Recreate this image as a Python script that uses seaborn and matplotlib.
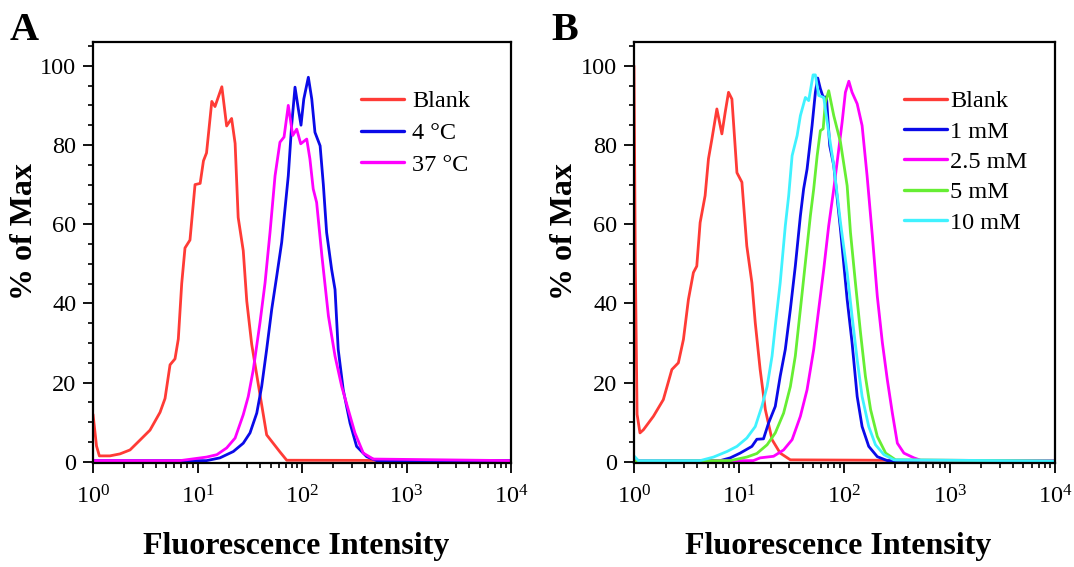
import numpy as np
import pandas as pd
import matplotlib
matplotlib.use('Agg')
import matplotlib.pyplot as plt
from matplotlib.ticker import MultipleLocator, LogLocator, NullFormatter
import seaborn as sns

## panel A: temperature
a_blank_x = [1.0, 1.08, 1.15, 1.45, 1.81, 2.26, 2.82, 3.51, 4.38, 4.89, 5.46, 6.09, 6.55, 7.06, 7.59, 8.47, 9.47,
             10.6, 11.4, 12.2, 13.7, 14.7, 17.1, 19.0, 21.2, 22.9, 24.5, 27.4, 29.6, 33.0, 38.2, 45.9, 61.5, 71.4, 10000]
a_blank_y = [12.0, 4.0, 1.5, 1.5, 2.0, 3.0, 5.5, 8.0, 12.5, 16.0, 24.5, 26.0, 31.0, 45.0, 54.0, 56.0, 70.0,
             70.3, 76.0, 78.0, 91.0, 89.7, 94.7, 84.8, 86.7, 80.4, 61.7, 53.3, 40.6, 29.7, 19.5, 6.8, 2.5, 0.4, 0.3]

a_4c_x = [1.0, 12.2, 16.4, 22.0, 27.4, 31.8, 36.9, 41.1, 45.9, 51.3, 57.3, 63.9, 73.9, 79.6, 85.7, 92.2, 97.8,
          104, 115, 124, 133, 149, 160, 172, 192, 207, 222, 248, 288, 333, 416, 519, 10000]
a_4c_y = [0.3, 0.3, 1.0, 2.6, 4.7, 7.3, 12.3, 19.0, 28.4, 38.5, 46.9, 55.4, 72.2, 85.0, 94.6, 89.1, 85.0,
          91.6, 97.1, 91.6, 83.2, 79.8, 70.0, 57.9, 48.6, 43.5, 28.4, 18.2, 9.8, 3.9, 1.3, 0.3, 0.3]

a_37c_x = [1.0, 6.8, 12.2, 15.3, 19.0, 22.9, 27.4, 30.6, 34.2, 39.6, 44.3, 49.4, 55.2, 61.5, 67.3, 73.9, 81.5,
           89.0, 97.2, 111, 119, 128, 138, 155, 179, 207, 240, 277, 321, 386, 481, 10000]
a_37c_y = [0.3, 0.3, 1.2, 1.8, 3.5, 6.0, 11.9, 16.5, 23.3, 35.1, 45.2, 57.9, 72.2, 80.7, 82.0, 90.0, 82.4,
           84.0, 80.3, 81.5, 76.5, 68.9, 65.5, 52.0, 36.8, 26.7, 19.0, 13.2, 7.3, 2.2, 0.7, 0.3]

## panel B: concentration
b_blank_x = [1.0, 1.03, 1.07, 1.14, 1.23, 1.53, 1.90, 2.29, 2.64, 2.95, 3.29, 3.67, 3.95, 4.25, 4.74, 5.10, 5.50,
             6.13, 6.84, 7.36, 7.91, 8.52, 9.51, 10.6, 11.8, 13.2, 14.2, 15.8, 17.7, 20.5, 24.5, 30.6, 10000]
b_blank_y = [100, 50, 12, 7.3, 8.1, 11.5, 15.7, 23.3, 25.0, 30.9, 41.0, 47.8, 49.4, 60.4, 67.2, 76.5, 81.5,
             89.1, 82.8, 88.3, 93.3, 91.6, 73.0, 70.6, 54.5, 45.2, 35.1, 23.3, 13.2, 5.6, 2.2, 0.5, 0.2]

b_1mm_x = [1.0, 6.59, 8.21, 10.2, 13.2, 14.7, 17.0, 19.0, 22.0, 24.5, 27.4, 30.6, 34.1, 38.1, 40.9, 44.1, 49.2,
           52.9, 55.7, 59.0, 62.7, 67.4, 72.4, 79.1, 91.6, 106, 118, 132, 147, 170, 205, 255, 10000]
b_1mm_y = [0.2, 0.3, 1.0, 2.2, 3.9, 5.7, 5.8, 9.8, 14.0, 21.6, 28.4, 38.5, 49.4, 62.1, 68.9, 73.9, 84.9,
           93.3, 96.9, 94.2, 92.1, 92.1, 79.8, 74.8, 58.7, 41.0, 30.1, 16.5, 8.9, 3.9, 1.3, 0.3, 0.2]

b_2_5mm_x = [1.0, 13.6, 15.8, 21.2, 26.4, 31.8, 38.1, 44.1, 51.0, 56.9, 63.5, 70.8, 79.1, 88.3, 95.0, 102,
             110, 118, 132, 147, 164, 184, 205, 229, 255, 285, 318, 367, 457, 529, 10000]
b_2_5mm_y = [0.3, 0.3, 1.0, 1.4, 3.0, 5.6, 11.5, 18.2, 28.4, 38.5, 48.6, 59.6, 68.9, 79.0, 85.8, 93.3,
             96.1, 93.3, 90.4, 84.9, 72.2, 57.0, 41.8, 30.1, 20.8, 12.3, 4.7, 2.2, 1.0, 0.4, 0.3]

b_5mm_x = [1.0, 8.21, 11.8, 14.7, 18.4, 22.0, 26.4, 30.6, 34.1, 38.1, 42.5, 47.4, 51.0, 55.0, 59.0, 62.7,
           65.9, 70.8, 79.1, 91.6, 106, 114, 127, 142, 158, 177, 205, 246, 306, 10000]
b_5mm_y = [0.2, 0.3, 1.2, 2.1, 4.3, 7.3, 12.3, 19.0, 26.7, 38.5, 50.3, 62.1, 68.9, 77.3, 83.6, 84.1,
           90.8, 93.7, 87.4, 80.7, 69.7, 57.9, 45.2, 32.6, 21.6, 13.2, 6.4, 2.2, 0.5, 0.2]

b_10mm_x = [1.0, 1.1, 4.25, 5.69, 7.64, 9.51, 11.8, 14.2, 16.4, 18.4, 20.5, 22.0, 24.5, 27.4, 29.5, 31.8, 35.5,
            38.1, 42.5, 45.7, 50.3, 52.9, 56.9, 63.5, 70.8, 79.1, 91.6, 106, 118, 132, 147, 170, 197, 237, 295, 10000]
b_10mm_y = [1.5, 0.3, 0.3, 1.2, 2.6, 3.9, 6.0, 8.9, 14.0, 19.0, 26.7, 34.3, 45.2, 59.6, 67.2, 77.3, 82.4,
            87.4, 92.0, 91.2, 97.7, 97.7, 92.5, 92.0, 83.2, 74.8, 60.4, 47.8, 36.8, 25.8, 16.5, 8.9, 4.3, 1.8, 0.5, 0.2]

labels_a = ['Blank', '4 °C', '37 °C']
labels_b = ['Blank', '1 mM', '2.5 mM', '5 mM', '10 mM']
colors_a = ['#ff3b36', '#0a0ae8', '#ff00ff']
colors_b = ['#ff3b36', '#0a0ae8', '#ff00ff', '#66ee33', '#40f2ff']


def long_df(xs, ys, labels):
    frames = []
    for x, y, lab in zip(xs, ys, labels):
        frames.append(pd.DataFrame({'intensity': x, 'pct': y, 'sample': lab}))
    return pd.concat(frames, ignore_index=True)


sns.set_theme(style='ticks')
plt.rcParams['font.family'] = ['Liberation Serif', 'DejaVu Serif']
plt.rcParams['mathtext.fontset'] = 'custom'
plt.rcParams['mathtext.rm'] = 'Liberation Serif'
plt.rcParams['mathtext.it'] = 'Liberation Serif:italic'
plt.rcParams['mathtext.bf'] = 'Liberation Serif:bold'
for key in ['text.color', 'axes.labelcolor', 'xtick.color', 'ytick.color', 'axes.edgecolor']:
    plt.rcParams[key] = 'black'


def draw_panel(ax, df, labels, colors, tpad, lspace):
    sns.lineplot(data=df, x='intensity', y='pct', hue='sample', hue_order=labels,
                 palette=colors, estimator=None, sort=False, linewidth=2.0, ax=ax)
    ax.set_xscale('log')
    ax.set_xlim(1, 1e4)
    ax.set_ylim(-0.3, 106)
    ax.xaxis.set_major_locator(LogLocator(base=10, numticks=10))
    ax.xaxis.set_minor_locator(LogLocator(base=10, subs=np.arange(2, 10), numticks=20))
    ax.xaxis.set_minor_formatter(NullFormatter())
    ax.yaxis.set_major_locator(MultipleLocator(20))
    ax.yaxis.set_minor_locator(MultipleLocator(5))
    ax.tick_params(which='major', length=7, width=1.3, labelsize=17.5, pad=5, color='black', labelcolor='black')
    ax.tick_params(which='minor', length=3.5, width=1.2, color='black')
    ax.tick_params(axis='x', which='major', pad=9)
    for sp in ax.spines.values():
        sp.set_linewidth(1.6)
        sp.set_color('black')
    ax.set_xlabel('Fluorescence Intensity', fontsize=23, fontweight='bold')
    ax.set_ylabel('% of Max', fontsize=23, fontweight='bold')
    ax.xaxis.set_label_coords(0.485, -0.165)
    ax.yaxis.set_label_coords(-0.13, 0.55)
    leg = ax.legend(loc='upper left', bbox_to_anchor=(0.642, 0.885), frameon=False, fontsize=17.5,
                    handlelength=1.75, handletextpad=tpad, labelspacing=lspace, borderpad=0, borderaxespad=0)
    for line in leg.get_lines():
        line.set_linewidth(2.4)


fig = plt.figure(figsize=(10.74, 5.67), dpi=100)
ax_a = fig.add_axes([0.0866, 0.1834, 0.3892, 0.7425])
ax_b = fig.add_axes([0.5903, 0.1834, 0.3920, 0.7425])

df_a = long_df([a_blank_x, a_4c_x, a_37c_x], [a_blank_y, a_4c_y, a_37c_y], labels_a)
df_b = long_df([b_blank_x, b_1mm_x, b_2_5mm_x, b_5mm_x, b_10mm_x],
               [b_blank_y, b_1mm_y, b_2_5mm_y, b_5mm_y, b_10mm_y], labels_b)

draw_panel(ax_a, df_a, labels_a, colors_a, 0.35, 0.4)
draw_panel(ax_b, df_b, labels_b, colors_b, 0.15, 0.34)

fig.text(0.009, 0.93, 'A', fontsize=29, fontweight='bold', va='baseline')
fig.text(0.513, 0.93, 'B', fontsize=29, fontweight='bold', va='baseline')

fig.savefig('out.png', dpi=100)
